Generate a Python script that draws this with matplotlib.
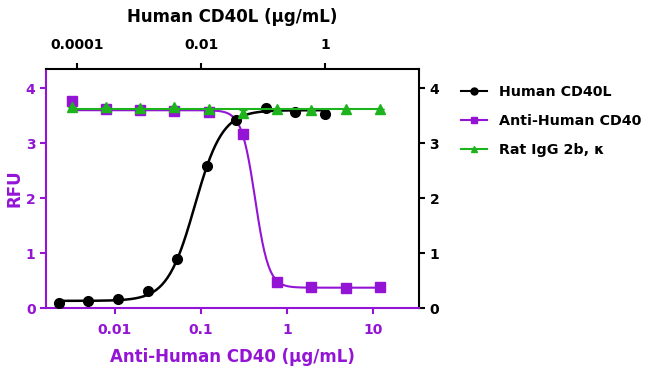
import numpy as np
import matplotlib
matplotlib.use("Agg")
import matplotlib.pyplot as plt
from matplotlib.lines import Line2D

purple = "#9414d6"
green = "#1db31d"

# Human CD40L (top axis), ug/mL
cd40l_conc = [5.08e-5, 1.52e-4, 4.57e-4, 1.37e-3, 4.12e-3, 0.0123, 0.037, 0.111, 0.333, 1.0]
cd40l_rfu = [0.09, 0.13, 0.16, 0.31, 0.89, 2.59, 3.42, 3.64, 3.57, 3.53]
cd40l_err = [0, 0, 0, 0, 0, 0, 0, 0, 0, 0.05]

# Anti-Human CD40 and isotype (bottom axis), ug/mL
ab_conc = [0.00315, 0.00786, 0.0197, 0.0492, 0.123, 0.307, 0.768, 1.92, 4.8, 12.0]
anti_rfu = [3.76, 3.63, 3.60, 3.58, 3.56, 3.17, 0.48, 0.38, 0.37, 0.38]
rat_rfu = [3.66, 3.66, 3.64, 3.65, 3.62, 3.55, 3.63, 3.60, 3.63, 3.63]
rat_err = [0, 0, 0, 0, 0, 0.05, 0, 0, 0, 0]

# 4PL fit parameters (bottom, top, logEC50, hill)
cd40l_fit = (0.13, 3.60, -2.10, 1.95)
anti_fit = (0.37, 3.60, -0.37, -5.5)


def fourpl(x, p):
    b, t, lec, h = p
    return b + (t - b) / (1 + 10 ** ((lec - np.log10(x)) * h))


plt.rcParams['font.family'] = 'DejaVu Sans'
plt.rcParams['font.weight'] = 'bold'

fig = plt.figure(figsize=(6.5, 3.79), dpi=100)
ax = fig.add_axes([0.0708, 0.1873, 0.5738, 0.6307])
ax.set_xscale('log')
ax.set_xlim(0.00158, 34.3)
ax.set_ylim(0, 4.35)

xs = np.logspace(np.log10(ab_conc[0]), np.log10(ab_conc[-1]), 300)
ax.plot(xs, fourpl(xs, anti_fit), color=purple, lw=1.5, zorder=2)
ax.plot(ab_conc, anti_rfu, 's', color=purple, ms=7, zorder=3)

axt = ax.twiny()
axt.set_xscale('log')
axt.set_xlim(3.16e-5, 32.8)
axt.set_ylim(0, 4.35)
xc = np.logspace(np.log10(cd40l_conc[0]), np.log10(cd40l_conc[-1]), 300)
axt.plot(xc, fourpl(xc, cd40l_fit), color='black', lw=1.8, zorder=2)
axt.errorbar(cd40l_conc, cd40l_rfu, yerr=cd40l_err, fmt='o', color='black',
             ms=7, capsize=3, elinewidth=1.5, zorder=3)
# green isotype on top
axg = ax.twiny()
axg.set_xscale('log')
axg.set_xlim(ax.get_xlim())
axg.axis('off')
axg.plot([ab_conc[0], ab_conc[-1]], [np.mean(rat_rfu)] * 2, color=green, lw=1.5)
axg.errorbar(ab_conc, rat_rfu, yerr=rat_err, fmt='^', color=green, ms=6.5,
             capsize=3, elinewidth=1.5)
axg.set_ylim(0, 4.35)

# spines and ticks
for a in (ax, axt):
    for s in a.spines.values():
        s.set_linewidth(1.5)
ax.spines['left'].set_color(purple)
ax.spines['bottom'].set_color(purple)
axt.spines['top'].set_color('black')
axt.spines['right'].set_visible(False)
axt.spines['left'].set_visible(False)
axt.spines['bottom'].set_visible(False)
ax.spines['right'].set_visible(False)
ax.spines['top'].set_visible(False)

ax.set_xticks([0.01, 0.1, 1, 10])
ax.set_xticklabels(['0.01', '0.1', '1', '10'])
ax.xaxis.set_minor_locator(matplotlib.ticker.NullLocator())
ax.set_yticks([0, 1, 2, 3, 4])
ax.tick_params(axis='both', colors=purple, labelsize=10, width=1.5, length=4)
ax.tick_params(axis='x', pad=7)
ax.set_xlabel('Anti-Human CD40 (μg/mL)', color=purple, fontsize=12, fontweight='bold', labelpad=8)
ax.set_ylabel('RFU', color=purple, fontsize=12, fontweight='bold', labelpad=2)

axt.set_xticks([0.0001, 0.01, 1])
axt.set_xticklabels(['0.0001', '0.01', '1'])
axt.xaxis.set_minor_locator(matplotlib.ticker.NullLocator())
axt.tick_params(axis='x', colors='black', labelsize=10, width=1.5, length=4, pad=8)
axt.set_xlabel('Human CD40L (μg/mL)', fontsize=12, fontweight='bold', labelpad=12)

axr = ax.secondary_yaxis('right')
axr.spines['right'].set_linewidth(1.5)
axr.spines['right'].set_color('black')
axr.set_yticks([0, 1, 2, 3, 4])
axr.tick_params(colors='black', labelsize=10, width=1.5, length=4)

handles = [
    Line2D([], [], color='black', marker='o', ms=5, lw=1.5),
    Line2D([], [], color=purple, marker='s', ms=5, lw=1.5),
    Line2D([], [], color=green, marker='^', ms=5, lw=1.5),
]
labels = ['Human CD40L', 'Anti-Human CD40', 'Rat IgG 2b, κ']
fig.legend(handles, labels, loc='upper left', bbox_to_anchor=(0.69, 0.81),
           frameon=False, handlelength=1.8, labelspacing=1.05,
           prop={'weight': 'bold', 'size': 10.3})

fig.savefig('out.png', dpi=100)
